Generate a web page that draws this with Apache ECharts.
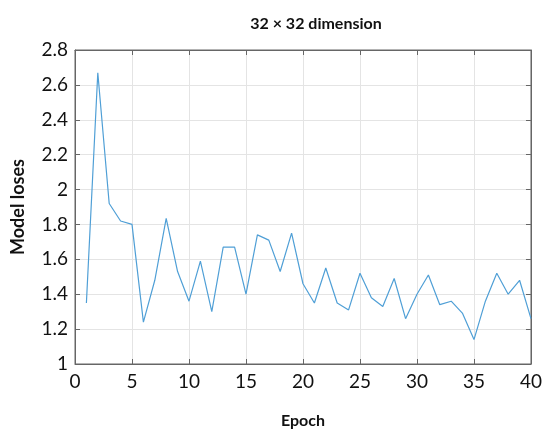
<!DOCTYPE html>
<html>
<head>
<meta charset="utf-8">
<script src="https://cdn.jsdelivr.net/npm/echarts@6/dist/echarts.min.js"></script>
<style>
  html, body { margin: 0; padding: 0; background: #fff; }
  #chart { width: 545px; height: 434px; }
</style>
</head>
<body>
<div id="chart"></div>
<script>
// epochs 1..40 and the loss
const epochs = Array.from({ length: 40 }, (_, i) => i + 1);
const losses = [
  1.35, 2.67, 1.92, 1.82, 1.80, 1.24, 1.48, 1.835, 1.53, 1.36,
  1.59, 1.30, 1.67, 1.67, 1.40, 1.74, 1.71, 1.53, 1.75, 1.46,
  1.35, 1.55, 1.35, 1.31, 1.52, 1.38, 1.33, 1.49, 1.26, 1.40,
  1.51, 1.34, 1.36, 1.29, 1.14, 1.36, 1.52, 1.40, 1.48, 1.26
];
const xTicks = [0, 5, 10, 15, 20, 25, 30, 35, 40];
const yTicks = [1, 1.2, 1.4, 1.6, 1.8, 2, 2.2, 2.4, 2.6, 2.8];

const chart = echarts.init(document.getElementById("chart"), null, { renderer: "canvas" });

const font = "Lato, 'Open Sans', sans-serif";
const frameColor = "#666";
const frame = { show: true, onZero: false, lineStyle: { color: frameColor, width: 1 } };
const ticks = { show: true, inside: true, length: 5, lineStyle: { color: frameColor } };
const grid = { show: true, lineStyle: { color: "#e4e4e4", width: 1 } };

// box with inward ticks on all four sides
const option = {
  backgroundColor: "#fff",
  animation: false,
  title: {
    text: "32 \u00d7 32 dimension",
    left: 311,
    top: 11,
    textAlign: "center",
    textStyle: { fontFamily: font, fontSize: 16, fontWeight: "bold", color: "#111" }
  },
  grid: {
    left: 75, right: 9, top: 50, bottom: 66,
    show: true, borderColor: frameColor, borderWidth: 1, backgroundColor: "transparent"
  },
  xAxis: [
    {
      type: "value",
      min: xTicks[0],
      max: xTicks[xTicks.length - 1],
      interval: 5,
      name: "Epoch",
      nameLocation: "middle",
      nameGap: 49,
      nameTextStyle: { fontFamily: font, fontSize: 16, fontWeight: "bold", color: "#111" },
      axisLine: frame,
      axisTick: ticks,
      axisLabel: { fontFamily: font, fontSize: 19, color: "#111", margin: 8 },
      splitLine: grid
    },
    {
      type: "value",
      position: "top",
      min: xTicks[0],
      max: xTicks[xTicks.length - 1],
      interval: 5,
      axisLine: frame,
      axisTick: ticks,
      axisLabel: { show: false },
      splitLine: { show: false }
    }
  ],
  yAxis: [
    {
      type: "value",
      min: yTicks[0],
      max: yTicks[yTicks.length - 1],
      interval: 0.2,
      name: "Model loses",
      nameLocation: "middle",
      nameGap: 48,
      nameTextStyle: { fontFamily: font, fontSize: 18, fontWeight: "bold", color: "#111" },
      axisLine: frame,
      axisTick: ticks,
      axisLabel: {
        fontFamily: font, fontSize: 19, color: "#111", margin: 7,
        formatter: (v) => String(parseFloat(v.toFixed(1)))
      },
      splitLine: grid
    },
    {
      type: "value",
      position: "right",
      min: yTicks[0],
      max: yTicks[yTicks.length - 1],
      interval: 0.2,
      axisLine: frame,
      axisTick: ticks,
      axisLabel: { show: false },
      splitLine: { show: false }
    }
  ],
  series: [
    {
      type: "line",
      data: epochs.map((e, i) => [e, losses[i]]),
      showSymbol: false,
      lineStyle: { color: "#4f9fd6", width: 1.2 },
      itemStyle: { color: "#4f9fd6" }
    }
  ]
};

chart.setOption(option);
</script>
</body>
</html>
